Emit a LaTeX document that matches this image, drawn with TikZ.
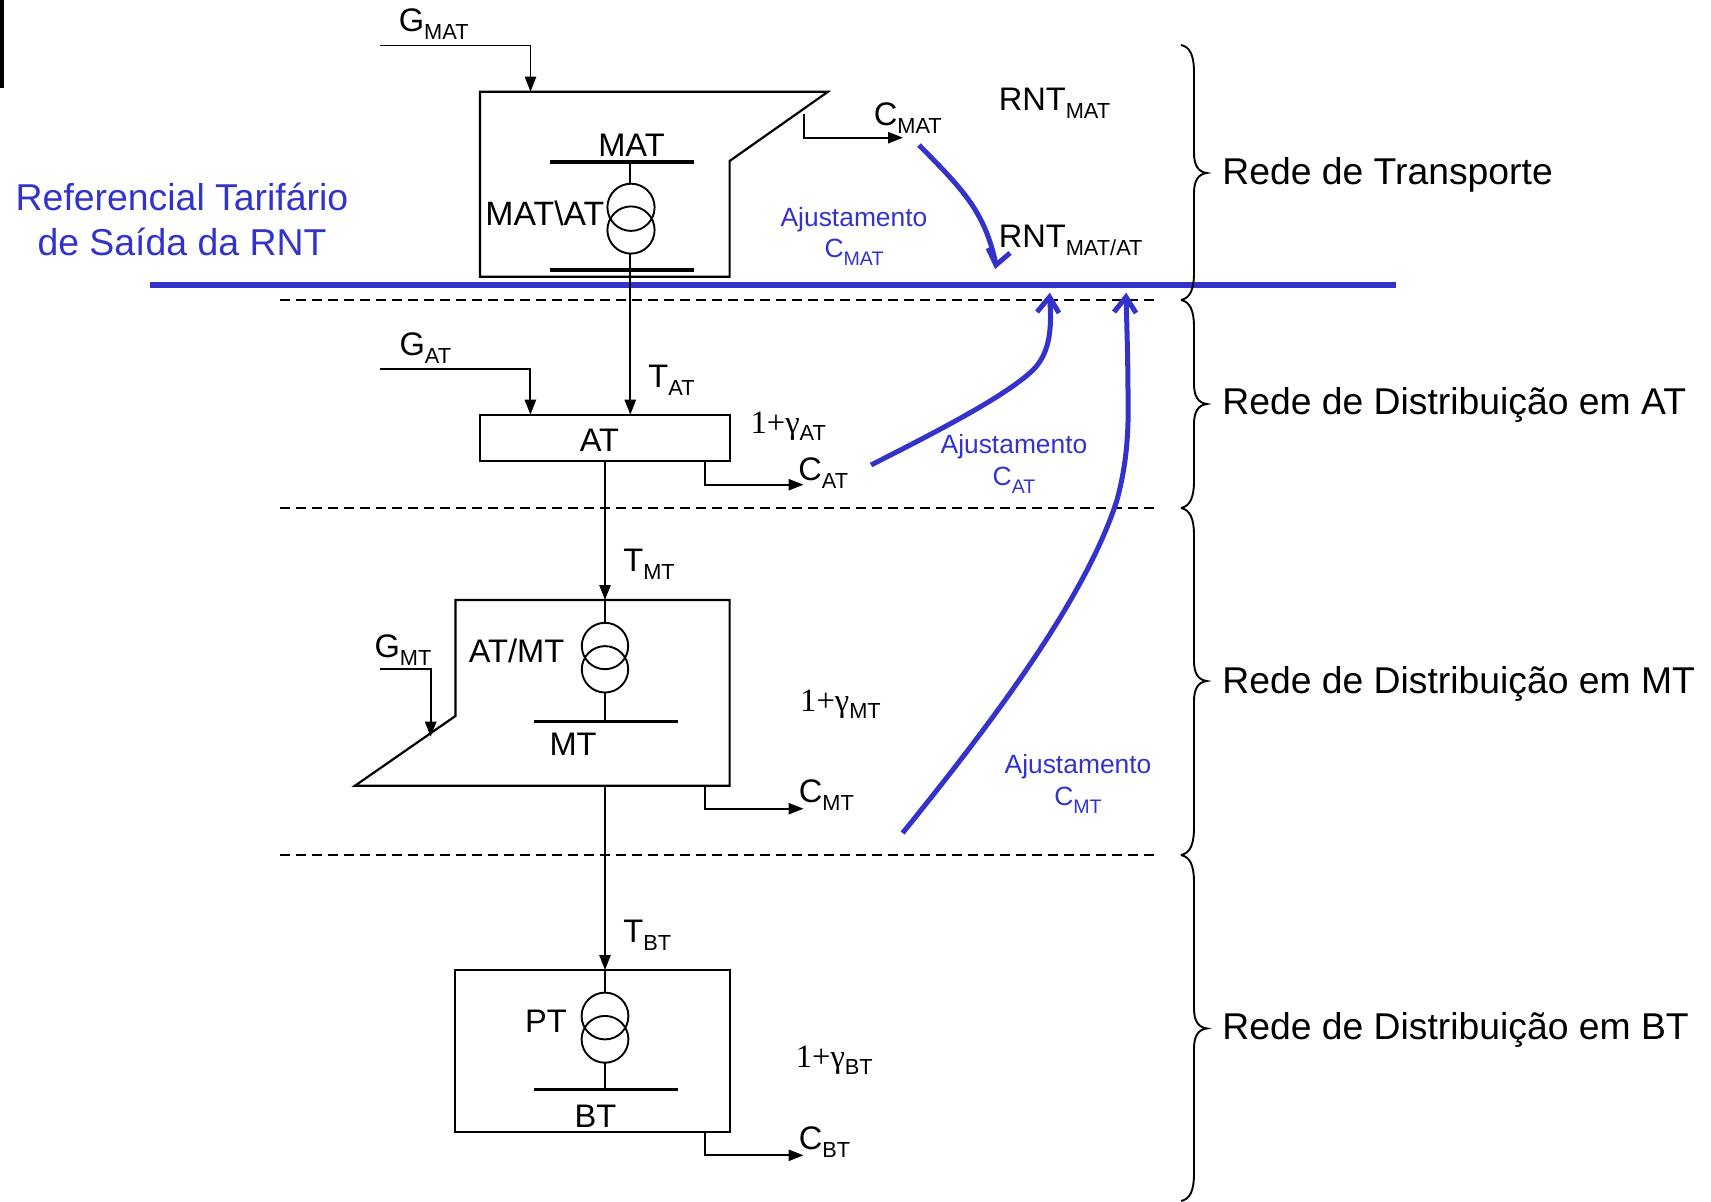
\documentclass[tikz,border=0pt]{standalone}
\usepackage{fontspec}
\setmainfont{Liberation Sans}
\newfontfamily\serifx{Liberation Serif}
\usetikzlibrary{arrows.meta}
\definecolor{refblue}{RGB}{51,51,204}
\newcommand{\sbx}[1]{\raisebox{-4pt}{\fontsize{10.9}{12}\selectfont #1}}
\newcommand{\sby}[1]{\raisebox{-4pt}{\fontsize{9.8}{11}\selectfont #1}}
\newcommand{\gam}[1]{{\serifx 1+γ}\raisebox{-3.5pt}{\fontsize{10.9}{12}\selectfont #1}}
\newcommand{\bracket}[3]{%
  \draw[wire] (1181,#1) .. controls (1190,#1+2) and (1194,#1+10) .. (1194,#1+28)
    -- (1194,#2-20) .. controls (1194,#2-8) and (1198,#2-1) .. (1207,#2)
    .. controls (1198,#2+1) and (1194,#2+8) .. (1194,#2+20)
    -- (1194,#3-28) .. controls (1194,#3-10) and (1190,#3-2) .. (1181,#3);}
\tikzset{
  wire/.style={draw=black,line width=0.95pt,line join=miter},
  boxline/.style={draw=black,line width=1.1pt,line join=miter},
  bus/.style={draw=black,line width=1.8pt},
  feed/.style={wire,-{Triangle[length=7.5pt,width=5.6pt]}},
  level/.style={draw=black,line width=1pt,dash pattern=on 5pt off 3pt},
  refline/.style={draw=refblue,line width=2.8pt},
  adjust/.style={draw=refblue,line width=2.5pt,line join=miter},
  lbl/.style={anchor=base west,inner sep=0pt,xshift=-0.8pt,font=\fontsize{16.3}{18}\selectfont},
  big/.style={anchor=base west,inner sep=0pt,xshift=-1pt,font=\fontsize{18.65}{22}\selectfont},
  bluebig/.style={anchor=base,inner sep=0pt,text=refblue,font=\fontsize{18.7}{22}\selectfont},
  bluelbl/.style={anchor=base,inner sep=0pt,text=refblue,font=\fontsize{13.2}{16}\selectfont},
}
\begin{document}
\begin{tikzpicture}[x=0.5pt,y=-0.5pt]
\useasboundingbox (0,0) rectangle (1711,1201);
\clip (0,0) rectangle (1711,1201);
\fill[black] (0,0) rectangle (4,88);

% level lines
\draw[level] (280,300) -- (1155,300);
\draw[level] (280,508) -- (1155,508);
\draw[level] (280,855) -- (1155,855);

% MAT substation
\coordinate (matin) at (530.5,91.7);
\coordinate (gmatstart) at (380,45.5);
\coordinate (matout) at (804,114);
\draw[boxline] (480,91.7) -- (828,91.7) -- (729.6,161) -- (729.6,276.7) -- (480,276.7) -- cycle;
\coordinate (mattop) at (630,161.7);
\coordinate (matbot) at (630,270);
\draw[bus] (550,161.7) -- (694,161.7);
\draw[bus] (550,270) -- (694,270);
\draw[wire] (631,207.3) circle[radius=11.8pt];
\draw[wire] (631,230) circle[radius=11.8pt];
\draw[wire] (mattop) -- (630,184);
\draw[feed] (gmatstart) -| (matin);
\draw[feed] (matout) |- (903,137.7);

% reference line
\draw[refline] (150,285) -- (1396,285);

% AT box
\coordinate (atinT) at (630.3,414.7);
\coordinate (atinG) at (530.4,414.7);
\coordinate (gatstart) at (380,368.7);
\coordinate (atbot) at (605,461);
\coordinate (atout) at (704.6,461);
\draw[boxline] (480,414.7) rectangle (729.6,461);
\draw[feed] (630.3,253) -- (atinT);
\draw[feed] (gatstart) -| (atinG);
\draw[feed] (atout) |- (803.5,484.7);

% MT box
\coordinate (mtin) at (605,600);
\coordinate (mtbot) at (605,785.7);
\coordinate (mtout) at (704.6,785.7);
\coordinate (gmtstart) at (380,669.3);
\draw[feed] (atbot) -- (mtin);
\draw[boxline] (455.4,600) -- (729.6,600) -- (729.6,785.7) -- (355,785.7) -- (455.4,716) -- cycle;
\draw[wire] (mtin) -- (605,623);
\draw[wire] (605,646) circle[radius=11.6pt];
\draw[wire] (605,669.3) circle[radius=11.6pt];
\draw[wire] (605,692.7) -- (605,721.3);
\draw[bus] (534,721.3) -- (677.5,721.3);
\draw[feed] (gmtstart) -| (430.7,736.7);
\draw[feed] (mtout) |- (803.5,808.7);

% BT box
\coordinate (btin) at (605,970);
\coordinate (btout) at (704.6,1132);
\draw[feed] (mtbot) -- (btin);
\draw[boxline] (455,970) rectangle (729.6,1132);
\draw[wire] (btin) -- (605,992.7);
\draw[wire] (605,1016) circle[radius=11.7pt];
\draw[wire] (605,1039.3) circle[radius=11.7pt];
\draw[wire] (605,1062.7) -- (605,1089.3);
\draw[bus] (534,1089.3) -- (677.5,1089.3);
\draw[feed] (btout) |- (803.5,1155.3);

% braces
\bracket{45}{173}{300}
\bracket{300}{404}{508}
\bracket{508}{681}{855}
\bracket{855}{1028.4}{1201}

% adjustment arrows
\coordinate (a1s) at (919,145);
\coordinate (a1e) at (996,265);
\coordinate (a2s) at (871,465);
\coordinate (a2m) at (1033,370);
\coordinate (a2e) at (1049.5,297);
\coordinate (a3s) at (902.6,833);
\coordinate (a3m) at (1117,500);
\coordinate (a3n) at (1128,397);
\coordinate (a3e) at (1126,297);
\draw[adjust] (a1s) .. controls (960,187) and (985,210) .. (a1e);
\draw[adjust] (988,248) -- (a1e) -- (1010,253);
\draw[adjust] (a2s) .. controls (930,435) and (1005,397) .. (a2m) .. controls (1051,352) and (1052,325) .. (a2e);
\draw[adjust] (1037,312) -- (a2e) -- (1059,313);
\draw[adjust] (a3s) .. controls (990,725) and (1085,600) .. (a3m) .. controls (1125,470) and (1129,440) .. (a3n) .. controls (1128,365) and (1127,330) .. (a3e);
\draw[adjust] (1114,312) -- (a3e) -- (1136,313);

% labels
\node[lbl] (lgmat) at (400,31.7) {G\sbx{MAT}};
\node[lbl] (lmat) at (599.5,156.7) {MAT};
\node[lbl,font=\fontsize{16.9}{18}\selectfont] (lmatat) at (486.6,225) {MAT\textbackslash AT};
\node[lbl] (lcmat) at (875,125) {C\sbx{MAT}};
\node[lbl] (lrnt1) at (1000,110) {RNT\sbx{MAT}};
\node[lbl] (lrnt2) at (1000,247.7) {RNT\sbx{MAT/AT}};
\node[lbl] (lgat) at (400.7,355.7) {G\sbx{AT}};
\node[lbl] (ltat) at (649.6,387.7) {T\sbx{AT}};
\node[lbl] (lat) at (581,451) {AT};
\node[lbl] (lgamat) at (751.8,433.3) {\gam{AT}};
\node[lbl] (lcat) at (799.6,480) {C\sbx{AT}};
\node[lbl] (ltmt) at (624.6,571.7) {T\sbx{MT}};
\node[lbl] (lgmt) at (375.7,657.3) {G\sbx{MT}};
\node[lbl] (latmt) at (470,662.5) {AT/MT};
\node[lbl] (lmt) at (550.7,755) {MT};
\node[lbl] (lgammt) at (801.4,711.7) {\gam{MT}};
\node[lbl] (lcmt) at (800,802.7) {C\sbx{MT}};
\node[lbl] (ltbt) at (624.6,942.7) {T\sbx{BT}};
\node[lbl] (lpt) at (526.4,1032.5) {PT};
\node[lbl] (lbt) at (575.7,1127) {BT};
\node[lbl] (lgambt) at (797,1067.7) {\gam{BT}};
\node[lbl] (lcbt) at (800,1149.3) {C\sbx{BT}};

\node[bluebig] (ref1) at (182,210.3) {Referencial Tarifário};
\node[bluebig] (ref2) at (182,255) {de Saída da RNT};
\node[bluelbl] (aj1) at (854,226) {Ajustamento};
\node[bluelbl] (aj1c) at (854,257.7) {C\sby{MAT}};
\node[bluelbl] (aj2) at (1014,453.7) {Ajustamento};
\node[bluelbl] (aj2c) at (1014,485) {C\sby{AT}};
\node[bluelbl] (aj3) at (1078,773.7) {Ajustamento};
\node[bluelbl] (aj3c) at (1078,805.3) {C\sby{MT}};

\node[big] (r1) at (1224,184.5) {Rede de Transporte};
\node[big] (r2) at (1224,414.5) {Rede de Distribuição em AT};
\node[big] (r3) at (1224,693) {Rede de Distribuição em MT};
\node[big] (r4) at (1224,1039.7) {Rede de Distribuição em BT};
\end{tikzpicture}
\end{document}
